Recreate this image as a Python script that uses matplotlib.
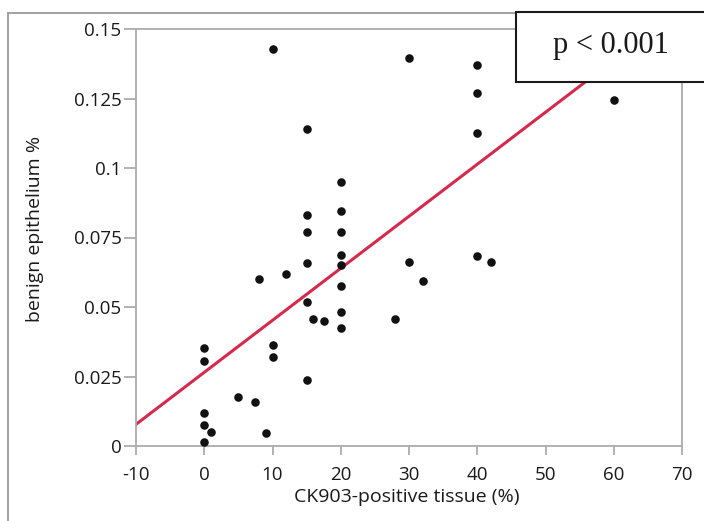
import matplotlib
matplotlib.use("Agg")
import matplotlib.pyplot as plt
from matplotlib.lines import Line2D
from matplotlib.patches import Rectangle

# CK903-positive tissue (%) vs benign epithelium %
ck903_pct = [10, 30, 15, 20, 15, 20, 15, 20, 40, 40, 40, 60,
             20, 15, 20, 8, 12, 30, 32, 20, 15, 16, 17.5, 20, 20, 28,
             0, 0, 10, 10, 15, 5, 7.5, 0, 0, 1, 9, 0, 40, 42]
benign_pct = [0.1427, 0.1395, 0.1139, 0.0951, 0.0832, 0.0844, 0.0770, 0.0770,
              0.1369, 0.1270, 0.1126, 0.1246,
              0.0687, 0.0657, 0.0651, 0.0601, 0.0620, 0.0663, 0.0595, 0.0577,
              0.0519, 0.0457, 0.0451, 0.0482, 0.0426, 0.0458,
              0.0351, 0.0307, 0.0363, 0.0319, 0.0239, 0.0176, 0.0157,
              0.0119, 0.0076, 0.0050, 0.0046, 0.0013, 0.0682, 0.0663]

# Linear fit shown on the chart
fit_intercept = 0.0265
fit_slope = 0.001871
fit_x = [-10, 70]

x_ticks = [-10, 0, 10, 20, 30, 40, 50, 60, 70]
y_ticks = [0, 0.025, 0.05, 0.075, 0.1, 0.125, 0.15]
y_tick_labels = ["0", "0.025", "0.05", "0.075", "0.1", "0.125", "0.15"]
p_text = "p < 0.001"

plt.rcParams["font.family"] = ["Open Sans", "DejaVu Sans"]

W, H = 704, 521
fig = plt.figure(figsize=(W / 100, H / 100), dpi=100)
ax = fig.add_axes([136 / W, 1 - 446 / H, 546 / W, 417 / H])

spine_col = "#ababab"
text_col = "#1a1a1a"
for s in ax.spines.values():
    s.set_color(spine_col)
    s.set_linewidth(1.3)

ax.set_xlim(-10, 70)
ax.set_ylim(0, 0.15)
ax.set_xticks(x_ticks)
ax.set_xticklabels([str(v) for v in x_ticks])
ax.set_yticks(y_ticks)
ax.set_yticklabels(y_tick_labels)
ax.tick_params(axis="x", direction="out", length=6.5, width=1.3, color=spine_col,
               labelsize=13.5, labelcolor=text_col, pad=8)
ax.tick_params(axis="y", direction="out", length=8.5, width=1.3, color=spine_col,
               labelsize=13.5, labelcolor=text_col, pad=2)

fit_y = [fit_intercept + fit_slope * v for v in fit_x]
ax.plot(fit_x, fit_y, color="#d42a4c", lw=2.2, zorder=2, clip_on=True)
ax.scatter(ck903_pct, benign_pct, s=38, color="#111111", zorder=3, clip_on=False,
           linewidths=0)

ax.set_xlabel("CK903-positive tissue (%)", fontsize=14, color=text_col, va="center")
ax.xaxis.set_label_coords(0.495, -0.123)
ax.set_ylabel("benign epithelium %", fontsize=14, color=text_col, va="center")
ax.yaxis.set_label_coords(-0.185, 0.52)

# outer frame (left and top edges visible)
frame_col = "#9a9a9a"
fig.add_artist(Line2D([8 / W, 8 / W], [0, 1 - 13 / H], color=frame_col, lw=1.3,
                      transform=fig.transFigure))
fig.add_artist(Line2D([8 / W, 1], [1 - 13 / H, 1 - 13 / H], color=frame_col, lw=1.3,
                      transform=fig.transFigure))

# p-value box
fig.add_artist(Rectangle((516 / W, 1 - 82 / H), (W - 516 + 10) / W, 70 / H,
                         transform=fig.transFigure, facecolor="white",
                         edgecolor=text_col, lw=1.5, zorder=5))
fig.text(611 / W, 1 - 45 / H, p_text, ha="center", va="center",
         fontsize=22, family=["Liberation Serif", "DejaVu Serif"], color=text_col,
         zorder=6)

fig.savefig("out.png", dpi=100)
